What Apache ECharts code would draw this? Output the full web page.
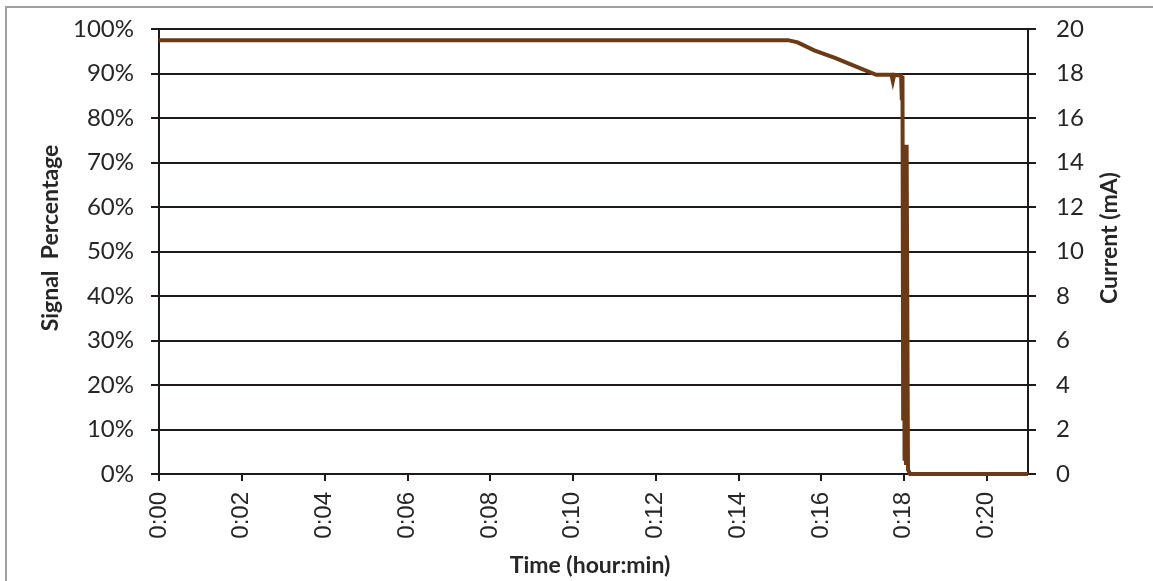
<!DOCTYPE html>
<html>
<head>
<meta charset="utf-8">
<script src="https://cdn.jsdelivr.net/npm/echarts@6/dist/echarts.min.js"></script>
<style>
html,body{margin:0;padding:0;background:#fff;}
#chart{width:1153px;height:581px;}
</style>
</head>
<body>
<div id="chart"></div>
<script>
// time in seconds since start
var timeSec = [0, 912, 914, 926, 950, 980, 1010, 1040, 1062, 1064, 1066, 1076, 1077, 1078, 1079, 1080, 1081, 1082, 1083, 1084, 1086, 1089, 1260];
// signal percentage
var signalPct = [97.5, 97.5, 97.2, 97.0, 95.2, 93.5, 91.6, 89.7, 89.7, 88.3, 89.7, 89.5, 84, 89.5, 12, 67, 3, 66, 2, 74, 1, 0, 0];
var leftTicks = [0, 10, 20, 30, 40, 50, 60, 70, 80, 90, 100];
var rightTicks = [0, 2, 4, 6, 8, 10, 12, 14, 16, 18, 20];

var seriesData = timeSec.map(function (t, i) { return [t, signalPct[i]]; });

function fmtTime(v) {
  var m = Math.round(v / 60);
  return '0:' + (m < 10 ? '0' + m : m);
}

var chart = echarts.init(document.getElementById('chart'), null, {renderer: 'canvas'});
var axisCol = '#1e1a1b';
chart.setOption({
  animation: false,
  backgroundColor: '#ffffff',
  grid: {left: 159, right: 125, top: 29, bottom: 107, containLabel: false},
  graphic: [
    {type: 'rect', shape: {x: 6, y: 7, width: 1200, height: 620}, style: {fill: 'none', stroke: '#a0a0a0', lineWidth: 2}, silent: true},
    {type: 'text', rotation: Math.PI / 2, x: 51, y: 238, style: {text: 'Signal  Percentage', font: 'bold 23px Lato', fill: '#262626', textAlign: 'center', textVerticalAlign: 'middle'}},
    {type: 'text', rotation: Math.PI / 2, x: 1110, y: 238, style: {text: 'Current (mA)', font: 'bold 23px Lato', fill: '#262626', textAlign: 'center', textVerticalAlign: 'middle'}},
    {type: 'text', x: 590, y: 566, style: {text: 'Time (hour:min)', font: 'bold 23px Lato', fill: '#262626', textAlign: 'center', textVerticalAlign: 'middle'}}
  ],
  xAxis: {
    type: 'value', min: 0, max: 1260, interval: 120,
    axisLine: {show: true, lineStyle: {color: axisCol, width: 2}},
    axisTick: {show: true, length: 7, lineStyle: {color: axisCol, width: 2}},
    splitLine: {show: false},
    axisLabel: {rotate: 90, margin: 18, showMaxLabel: false, formatter: fmtTime,
      fontFamily: 'Liberation Sans', fontSize: 24, color: '#262626'}
  },
  yAxis: [
    {
      type: 'value', min: 0, max: 100, interval: 10, position: 'left',
      axisLine: {show: true, lineStyle: {color: axisCol, width: 2}},
      axisTick: {show: true, length: 8, lineStyle: {color: axisCol, width: 2}},
      splitLine: {show: true, lineStyle: {color: axisCol, width: 2}},
      axisLabel: {margin: 25, fontFamily: 'Lato', fontSize: 24, color: '#262626',
        formatter: function (v) { return leftTicks.indexOf(v) >= 0 ? v + '%' : ''; }}
    },
    {
      type: 'value', min: 0, max: 20, interval: 2, position: 'right',
      axisLine: {show: true, lineStyle: {color: axisCol, width: 2}},
      axisTick: {show: true, length: 8, lineStyle: {color: axisCol, width: 2}},
      splitLine: {show: false},
      axisLabel: {margin: 28, fontFamily: 'Lato', fontSize: 24, color: '#262626',
        formatter: function (v) { return rightTicks.indexOf(v) >= 0 ? String(v) : ''; }}
    }
  ],
  series: [{
    type: 'line', yAxisIndex: 0, data: seriesData, showSymbol: false, symbol: 'none',
    lineStyle: {color: '#6b3a17', width: 4, join: 'miter'}, z: 5
  }]
});
</script>
</body>
</html>
